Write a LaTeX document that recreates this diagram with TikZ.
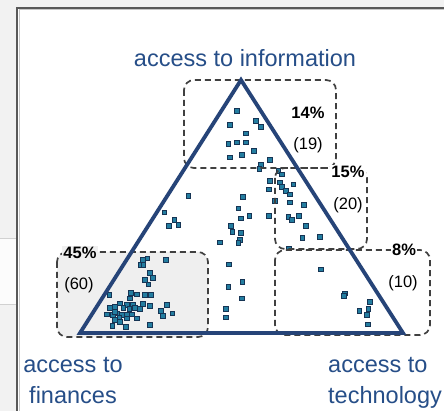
\documentclass[tikz,border=0pt]{standalone}
\usepackage{fontspec}
\setmainfont{Liberation Sans}

\definecolor{pageback}{RGB}{242,242,242}
\definecolor{triblue}{RGB}{38,68,120}
\definecolor{labelblue}{RGB}{38,78,136}
\definecolor{dotfill}{RGB}{35,125,160}
\definecolor{dotedge}{RGB}{22,52,84}
\definecolor{zonegray}{RGB}{239,239,239}

\tikzset{
  zone/.style={draw=black!75, dash pattern=on 6pt off 4pt, line width=1.7pt, rounded corners=10pt},
  corner/.style={font=\fontsize{23.5}{31}\selectfont, text=labelblue, inner sep=0pt},
  share/.style={font=\bfseries\fontsize{16.5}{18}\selectfont, inner sep=0pt},
  count/.style={font=\fontsize{16.5}{18}\selectfont, inner sep=0pt},
  dot/.style={fill=dotfill, draw=dotedge, line width=0.6pt}
}

\begin{document}
\begin{tikzpicture}[x=1pt, y=-1pt]
    \useasboundingbox (0,0) rectangle (444,411);
    \fill[pageback] (0,0) rectangle (444,411);
    \fill[black!1] (0,238) rectangle (16,304);
    \draw[black!18] (0,238) -- (16,238);
    \draw[black!18] (0,304) -- (16,304);
    \fill[white] (17,8) rectangle (444,411);
    \draw[black!65, line width=2pt] (17,411) -- (17,8) -- (444,8);
    \draw[black!22, line width=0.6pt] (18.8,411) -- (18.8,9.8) -- (444,9.8);

    \coordinate (topv) at (241,80);
    \coordinate (leftv) at (80,333);
    \coordinate (rightv) at (403,333);

    \fill[zonegray, rounded corners=10pt] (57,252) rectangle (208,337);

    \foreach \px/\py in {
      236.7/110.7, 230/125, 255.7/120.7, 261/126.7, 246/133.3, 228.3/144,
      236.7/142.3, 246/142.3, 230/157.3, 241.7/155, 254/150.7, 270/159.7,
      261/165, 259.3/169,
      278.3/171, 281.7/174.3, 270/181, 280/182.3, 293.3/184.3, 269/189.3,
      281.7/186.7, 285.7/191, 290/194.3, 275/201, 290/202.3, 304/205,
      269/216, 288.3/216.7, 291.7/220, 299/216, 305.7/226, 302.3/237.7,
      320/236.7, 289/248.3,
      188.3/195.7, 242.7/196.7, 238.3/208.3, 164.3/212.3, 240.7/218.3,
      249.3/216, 174.3/220, 178.3/225, 169/226, 230.7/225.7, 232.3/231.7,
      240.7/232.7, 240/240, 238.3/242.7, 220/242.3, 229/264.3, 242.3/281.7,
      228.3/286.7, 241.7/298.3, 226/309, 225.7/317.3,
      320.7/269.3, 345/293.3, 344/295.7, 370/301.7, 359.3/310.7, 368.3/309,
      366.7/315, 367.7/324.3,
      166/260, 147.3/258.3, 142.7/260, 140.7/265, 143.3/265, 150/272.7,
      152.7/277.7, 145/280, 148.3/284.3, 109.3/295, 130.7/292.7, 136.7/294.3,
      145/295, 151/295, 130/298.3, 142.7/304, 150/305.7, 166.7/305,
      120/303.3, 126.7/305, 132.7/305, 110/307.7, 115/306.7, 123.3/307.7,
      129.3/309, 135/307.7, 140/309, 161/310.7, 172.3/313.3, 106.7/314.3,
      112.7/315, 117.3/313.3, 121.7/315, 126.7/315, 131.7/314.3, 136.7/318.3,
      162.7/316, 115/320, 120/321.7, 126.7/318.3, 119.3/317.3, 112.3/325.7,
      125.7/326.7, 150/325, 115/311.7}
      \filldraw[dot] (\px-2.4,\py-2.4) rectangle (\px+2.4,\py+2.4);

    \draw[zone] (184,80) rectangle (336,168);
    \draw[zone] (275,168) rectangle (367,249);
    \draw[zone] (275,250) rectangle (430,335);
    \draw[zone] (57,252) rectangle (208,337);

    \draw[triblue, line width=3.8pt, line join=miter] (topv) -- (leftv) -- (rightv) -- cycle;

    \node[corner, anchor=base] (info) at (245,67) {access to information};
    \node[corner, anchor=base, align=center] (fin) at (73,403) {access to\\finances};
    \node[corner, anchor=base west, align=left] (tech) at (328,403) {access to\\technology};

    \node[share] (infoshare) at (308,113) {14\%};
    \node[count] (infocount) at (308,145) {(19)};
    \node[share, fill=white, inner sep=1pt] (midshare) at (348,172) {15\%};
    \node[count] (midcount) at (348,205) {(20)};
    \node[share, fill=white, inner sep=1.5pt] (techshare) at (404,250) {8\%};
    \node[count] (techcount) at (403,283) {(10)};
    \node[share, fill=zonegray, inner sep=1pt] (finshare) at (80,253) {45\%};
    \node[count] (fincount) at (79,285) {(60)};
\end{tikzpicture}
\end{document}
